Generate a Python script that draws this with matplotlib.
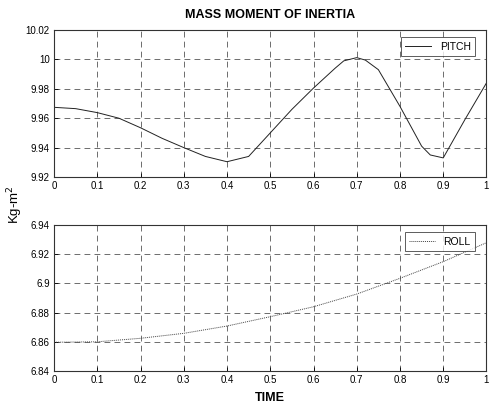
import matplotlib
matplotlib.use("Agg")
import matplotlib.pyplot as plt
import numpy as np

plt.rcParams['font.family'] = ['Liberation Sans', 'DejaVu Sans']

time = [0.0, 0.05, 0.1, 0.15, 0.2, 0.25, 0.3, 0.35, 0.4, 0.45, 0.5, 0.55, 0.6,
        0.65, 0.67, 0.7, 0.72, 0.75, 0.8, 0.85, 0.87, 0.9, 0.95, 1.0]
pitch = [9.9674, 9.9665, 9.9638, 9.960, 9.9535, 9.9463, 9.940, 9.934, 9.9304,
         9.934, 9.950, 9.966, 9.9805, 9.994, 9.999, 10.0012, 9.9995, 9.993, 9.968,
         9.941, 9.935, 9.933, 9.959, 9.984]
roll_time = [0.0, 0.1, 0.2, 0.3, 0.4, 0.5, 0.6, 0.7, 0.8, 0.9, 1.0]
roll = [6.8597, 6.8600, 6.8624, 6.8658, 6.8708, 6.8772, 6.884, 6.8927, 6.9035,
        6.9149, 6.9279]

xticks = [0, 0.1, 0.2, 0.3, 0.4, 0.5, 0.6, 0.7, 0.8, 0.9, 1]
xticklabels = ['0', '0.1', '0.2', '0.3', '0.4', '0.5', '0.6', '0.7', '0.8', '0.9', '1']
pitch_yticks = [9.92, 9.94, 9.96, 9.98, 10.0, 10.02]
pitch_ylabels = ['9.92', '9.94', '9.96', '9.98', '10', '10.02']
roll_yticks = [6.84, 6.86, 6.88, 6.9, 6.92, 6.94]
roll_ylabels = ['6.84', '6.86', '6.88', '6.9', '6.92', '6.94']

fig = plt.figure(figsize=(4.92, 4.09), dpi=100)
ax1 = fig.add_axes([0.1098, 0.5672, 0.879, 0.3595])
ax2 = fig.add_axes([0.1098, 0.0929, 0.879, 0.357])

def style(ax, yt, yl):
    ax.set_xlim(0, 1)
    ax.set_xticks(xticks)
    ax.set_xticklabels(xticklabels)
    ax.set_yticks(yt)
    ax.set_yticklabels(yl)
    ax.set_ylim(yt[0], yt[-1])
    ax.tick_params(labelsize=7, direction='in', length=3, width=0.6, pad=3)
    ax.grid(True, color='#555555', linestyle=(0, (7, 5)), linewidth=0.6)
    for s in ax.spines.values():
        s.set_linewidth(0.8)
        s.set_color('#333333')

ax1.plot(time, pitch, color='#222222', linewidth=0.7, label='PITCH')
style(ax1, pitch_yticks, pitch_ylabels)
leg = ax1.legend(loc='upper right', fontsize=7.5, frameon=True, fancybox=False,
                 edgecolor='#333333', handlelength=2.5, borderpad=0.4,
                 bbox_to_anchor=(0.985, 0.985))
leg.get_frame().set_linewidth(0.7)

ax2.plot(roll_time, roll, color='#444444', linewidth=0.7, linestyle=(0, (1, 1)), label='ROLL')
style(ax2, roll_yticks, roll_ylabels)
leg2 = ax2.legend(loc='upper right', fontsize=7.5, frameon=True, fancybox=False,
                  edgecolor='#333333', handlelength=2.5, borderpad=0.4,
                  bbox_to_anchor=(0.985, 0.985))
leg2.get_frame().set_linewidth(0.7)

fig.text(0.548, 0.963, 'MASS MOMENT OF INERTIA', ha='center', va='center', fontsize=9,
         fontweight='semibold')
fig.text(0.03, 0.5, 'Kg-m$^2$', rotation=90, ha='center', va='center', fontsize=9.5)
fig.text(0.548, 0.027, 'TIME', ha='center', va='center', fontsize=9, fontweight='bold')

fig.savefig('out.png', dpi=100)
